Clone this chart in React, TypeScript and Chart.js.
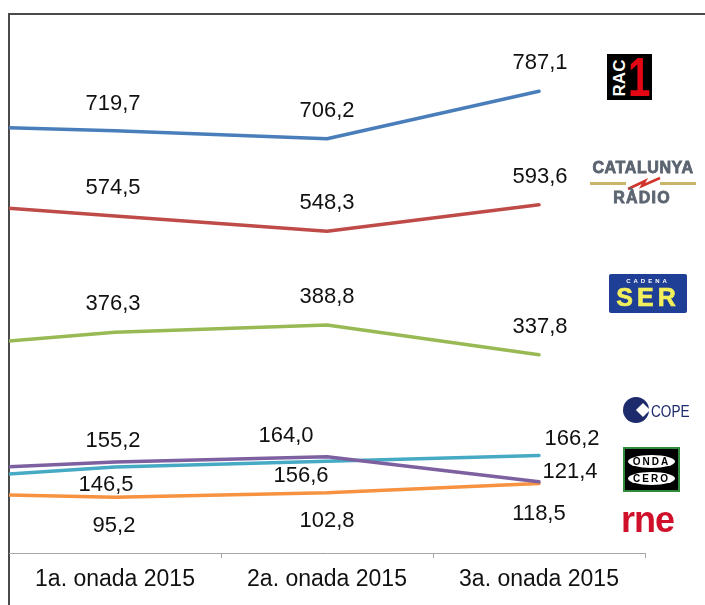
import React, { useEffect, useRef } from "react";
import { Chart, registerables } from "chart.js";

Chart.register(...registerables);

// ---- data ----
const waves = ["1a. onada 2015", "2a. onada 2015", "3a. onada 2015"];
const stations = ["RAC1", "Catalunya Ràdio", "Cadena SER", "Onda Cero", "COPE", "RNE"];
const rac1 = [719.7, 706.2, 787.1];
const catalunyaRadio = [574.5, 548.3, 593.6];
const cadenaSer = [376.3, 388.8, 337.8];
const ondaCero = [155.2, 164.0, 121.4];
const cope = [146.5, 156.6, 166.2];
const rne = [95.2, 102.8, 118.5];
// previous wave (off the left edge; only its incoming segment is visible)
const previousWave = [730.1, 600.5, 346.3, 139.0, 122.7, 102.6];

const series = [rac1, catalunyaRadio, cadenaSer, ondaCero, cope, rne];
const colors = ["#4A7EBB", "#BE4B48", "#98B954", "#7D60A0", "#46AAC5", "#F69240"];

// label placement relative to each point (dx, dy in px)
const labelOffsets: number[][][] = [
  [[-2, -27], [0, -28], [1, -28]],
  [[-2, -28], [0, -28], [1, -28]],
  [[-2, -28], [0, -28], [1, -28]],
  [[-2, -21], [-41, -21], [31, -10]],
  [[-9, 18], [-26, 15], [33, -16.5]],
  [[-1, 29], [0, 28], [0, 30.5]],
];

const FONT = '"Liberation Sans", Arial, Helvetica, sans-serif';

const fmt = (v: number) => v.toFixed(1).replace(".", ",");

const valueLabels = {
  id: "valueLabels",
  afterDatasetsDraw(chart: any) {
    const ctx = chart.ctx;
    ctx.save();
    ctx.font = `22px ${FONT}`;
    ctx.fillStyle = "#111";
    ctx.textAlign = "center";
    ctx.textBaseline = "middle";
    chart.data.datasets.forEach((ds: any, i: number) => {
      const meta = chart.getDatasetMeta(i);
      meta.data.forEach((pt: any, j: number) => {
        if (j === 0) return;
        const [dx, dy] = labelOffsets[i][j - 1];
        ctx.fillText(fmt(ds.data[j].y), pt.x + dx, pt.y + dy);
      });
    });
    ctx.restore();
  },
};

function Logos() {
  const abs = (s: React.CSSProperties): React.CSSProperties => ({
    position: "absolute",
    lineHeight: 1,
    whiteSpace: "nowrap",
    fontFamily: FONT,
    ...s,
  });
  return (
    <>
      {/* RAC1 */}
      <div style={abs({ left: 607, top: 54, width: 45, height: 46, background: "#000" })}>
        <div
          style={abs({
            left: 12,
            top: 24,
            transform: "translate(-50%, -50%) rotate(-90deg)",
            color: "#fff",
            fontWeight: "bold",
            fontSize: 17,
          })}
        >
          RAC
        </div>
        <div
          style={abs({
            left: 21,
            top: -5,
            color: "#E30613",
            fontWeight: "bold",
            fontSize: 56,
            transform: "scaleX(0.72)",
            transformOrigin: "left top",
          })}
        >
          1
        </div>
      </div>

      {/* Catalunya Ràdio */}
      <div
        style={abs({
          left: 586,
          top: 160,
          width: 114,
          textAlign: "center",
          color: "#5B6470",
          fontWeight: "bold",
          fontSize: 16,
          letterSpacing: 0.6,
          WebkitTextStroke: "0.8px #5B6470",
        })}
      >
        CATALUNYA
      </div>
      <div style={abs({ left: 590, top: 182, width: 36, height: 3, background: "#C9B56A" })} />
      <div style={abs({ left: 660, top: 182, width: 36, height: 3, background: "#C9B56A" })} />
      <svg style={{ position: "absolute", left: 626, top: 175, width: 36, height: 16 }}>
        <polyline points="2,14 19,6 16,11 34,3" fill="none" stroke="#D2342C" strokeWidth="2.5" />
      </svg>
      <div
        style={abs({
          left: 600,
          top: 190,
          width: 84,
          textAlign: "center",
          color: "#5B6470",
          fontWeight: "bold",
          fontSize: 16,
          letterSpacing: 1.2,
          WebkitTextStroke: "0.8px #5B6470",
        })}
      >
        RÀDIO
      </div>

      {/* Cadena SER */}
      <div style={abs({ left: 609, top: 274, width: 78, height: 39, background: "#1F3F96", borderRadius: 2 })}>
        <div
          style={abs({
            left: 0,
            top: 4,
            width: 78,
            textAlign: "center",
            color: "#fff",
            fontWeight: "bold",
            fontSize: 6,
            letterSpacing: 3,
          })}
        >
          CADENA
        </div>
        <div
          style={abs({
            left: 0,
            top: 11,
            width: 78,
            textAlign: "center",
            color: "#F2EF5C",
            fontWeight: "bold",
            fontSize: 25,
            letterSpacing: 4,
            WebkitTextStroke: "0.6px #F2EF5C",
          })}
        >
          SER
        </div>
      </div>

      {/* COPE */}
      <div style={abs({ left: 623, top: 397, width: 26, height: 26, borderRadius: 13, background: "#1D2A6B" })}>
        <div
          style={abs({
            left: 15,
            top: 8,
            width: 10,
            height: 10,
            background: "#fff",
            transform: "rotate(45deg)",
          })}
        />
      </div>
      <div
        style={abs({
          left: 651,
          top: 403.5,
          color: "#1D2A6B",
          fontSize: 16,
          transform: "scaleX(0.85)",
          transformOrigin: "left top",
        })}
      >
        COPE
      </div>

      {/* Onda Cero */}
      <div
        style={abs({
          left: 623,
          top: 447,
          width: 53,
          height: 41,
          background: "#000",
          border: "2px solid #2F8A3A",
        })}
      >
        <div
          style={abs({
            left: 3,
            top: 6,
            width: 47,
            height: 13,
            borderRadius: "50%",
            background: "#fff",
            color: "#000",
            fontWeight: "bold",
            fontSize: 10,
            letterSpacing: 2,
            textAlign: "center",
            lineHeight: "13px",
          })}
        >
          ONDA
        </div>
        <div
          style={abs({
            left: 3,
            top: 23,
            width: 47,
            height: 13,
            borderRadius: "50%",
            background: "#fff",
            color: "#000",
            fontWeight: "bold",
            fontSize: 10,
            letterSpacing: 2,
            textAlign: "center",
            lineHeight: "13px",
          })}
        >
          CERO
        </div>
      </div>

      {/* RNE */}
      <div
        style={abs({
          left: 621,
          top: 502,
          color: "#D0102A",
          fontWeight: "bold",
          fontSize: 36,
          letterSpacing: -1,
        })}
      >
        rne
      </div>
    </>
  );
}

export default function App() {
  const canvasRef = useRef<HTMLCanvasElement | null>(null);

  useEffect(() => {
    if (!canvasRef.current) return;
    const datasets = series.map((vals, i) => ({
      label: stations[i],
      data: [{ x: -1, y: previousWave[i] }, ...vals.map((v, j) => ({ x: j, y: v }))],
      borderColor: colors[i],
      backgroundColor: colors[i],
      borderWidth: 3.5,
      pointRadius: 0,
      tension: 0,
      borderJoinStyle: "round" as const,
      borderCapStyle: "round" as const,
      clip: { left: 0, right: 3, top: 3, bottom: 3 },
    }));

    const chart = new Chart(canvasRef.current, {
      type: "line",
      data: { datasets },
      options: {
        responsive: false,
        animation: false,
        devicePixelRatio: 1,
        layout: { padding: { left: 9, right: 60, top: 25, bottom: 0 } },
        plugins: {
          legend: { display: false },
          tooltip: { enabled: false },
        },
        scales: {
          x: {
            type: "linear",
            min: -0.5,
            max: 2.5,
            afterBuildTicks: (s: any) => {
              s.ticks = [-0.5, 0, 0.5, 1, 1.5, 2, 2.5].map((v) => ({ value: v }));
            },
            afterFit: (s: any) => {
              s.height = 52;
            },
            ticks: {
              autoSkip: false,
              maxRotation: 0,
              minRotation: 0,
              padding: 8,
              color: "#111",
              font: { family: FONT, size: 23 },
              callback: (v: any) => (Number.isInteger(v) && v >= 0 ? waves[v] : ""),
            },
            grid: {
              drawOnChartArea: false,
              drawTicks: true,
              tickLength: 5,
              lineWidth: 1,
              tickColor: (ctx: any) =>
                ctx.tick && !Number.isInteger(ctx.tick.value) && ctx.tick.value > 0
                  ? "#A6A6A6"
                  : "rgba(0,0,0,0)",
            },
            border: { display: true, color: "#A6A6A6", width: 1 },
          },
          y: { display: false, min: 0, max: 900 },
        },
      },
      plugins: [valueLabels],
    });
    return () => chart.destroy();
  }, []);

  return (
    <div
      style={{
        position: "absolute",
        left: 0,
        top: 0,
        width: 705,
        height: 605,
        background: "#fff",
        overflow: "hidden",
      }}
    >
      <div
        style={{
          position: "absolute",
          left: 8,
          top: 13,
          width: 705,
          height: 605,
          borderLeft: "2px solid #4A4A4A",
          borderTop: "2px solid #4A4A4A",
        }}
      />
      <canvas
        ref={canvasRef}
        width={705}
        height={605}
        style={{ position: "absolute", left: 0, top: 0, width: 705, height: 605 }}
      />
      <Logos />
    </div>
  );
}
